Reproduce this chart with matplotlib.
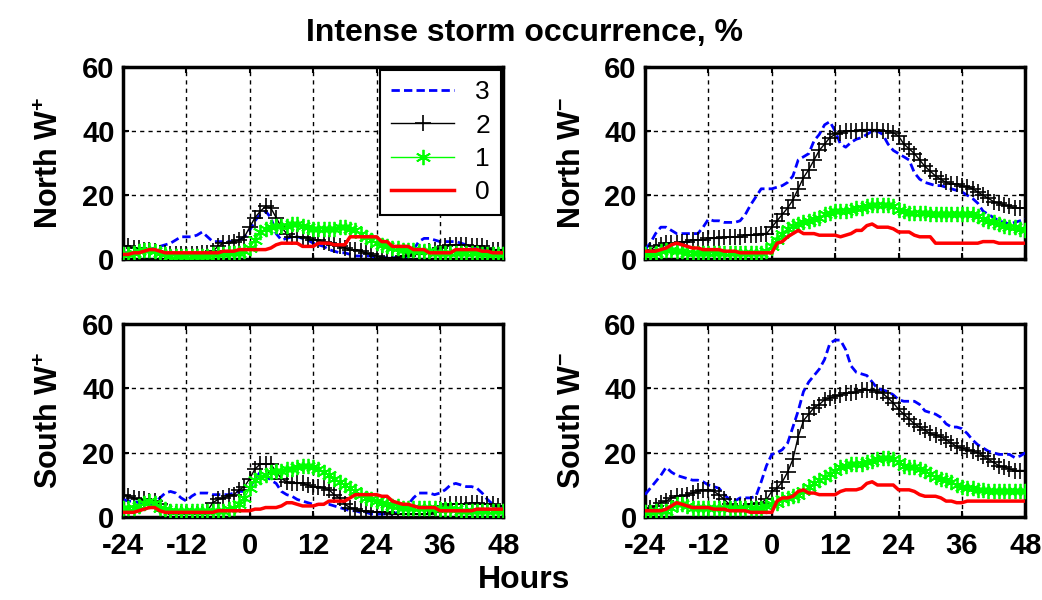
import numpy as np
import matplotlib
matplotlib.use('Agg')
import matplotlib.pyplot as plt

plt.rcParams['font.family'] = ['Liberation Sans', 'DejaVu Sans']
plt.rcParams['mathtext.fontset'] = 'custom'
plt.rcParams['mathtext.rm'] = 'Liberation Sans'
plt.rcParams['mathtext.bf'] = 'Liberation Sans:bold'
plt.rcParams['axes.unicode_minus'] = False

# hours relative to storm onset
hours = np.arange(-24, 49)

# ---- North W+ ----
nwp_3 = [2, 2, 2.5, 3, 3, 3, 3.5, 4,
         4.5, 5, 6, 7, 7, 7, 7.5, 8.5,
         7, 5.5, 5.5, 5.5, 5.5, 5.5, 6, 7,
         9, 12, 14, 15, 13, 8, 6, 6.5,
         7, 7, 6.5, 6, 5, 4.5, 4, 3,
         2.5, 2, 2, 1.5, 1, 1, 1, 1,
         0.5, 0.5, 0.5, 0.5, 0.5, 0.5, 1, 3,
         5.5, 6.5, 6.5, 6, 5.5, 5.5, 5.5, 5.5,
         5, 4.5, 4, 4, 3.5, 3, 2.5, 2, 2]
nwp_2 = [4, 4, 3.5, 3.5, 3, 3, 2.5, 2,
         2, 1.5, 1.5, 1.5, 1.5, 1.5, 1.5, 2,
         2, 2.5, 4, 5, 5, 5.5, 6, 7,
         10, 13, 15, 16.5, 16, 13, 10, 8,
         7, 7, 7, 6.5, 6, 6, 5.5, 5,
         4.5, 4, 3.5, 3, 3, 2.5, 2, 1.5,
         1, 0.5, 0.5, 0.5, 0.5, 1, 1, 1.5,
         1.5, 2, 2.5, 3, 3.5, 4, 4.5, 4.5,
         4.5, 4.5, 4, 4, 4, 3.5, 3, 3, 3]
nwp_1 = [1.5, 1.5, 2, 2.5, 3, 3, 2.5, 2,
         1.5, 1, 1, 1, 1, 1, 1, 1,
         1, 1.5, 1.5, 1.5, 2, 2, 2, 2.5,
         3.5, 6, 8.5, 9.5, 10, 10.5, 10.5, 10.5,
         11, 11, 10.5, 10, 9.5, 9.5, 9.5, 9.5,
         9.5, 10, 10, 9.5, 9, 8, 7, 6,
         5, 4.5, 4, 3.5, 3.5, 3, 3, 3,
         2.5, 2.5, 2.5, 2, 2, 2, 2, 2,
         2, 2, 2, 2, 1.5, 1.5, 1.5, 1.5, 1.5]
nwp_0 = [1.5, 1.5, 2, 2, 2.5, 3, 3, 2.5,
         2, 2, 2, 2, 2, 2, 2, 2,
         2, 2, 2, 2.5, 2.5, 2.5, 3, 3,
         3, 3, 3, 3, 3.5, 4.5, 5, 5,
         5, 5, 4, 4, 4, 5, 5, 5,
         4.5, 4.5, 4.5, 7, 7, 7, 7, 7,
         7, 5.5, 5.5, 4, 4, 4, 4, 3,
         3, 3, 2, 2, 2, 2, 2, 3,
         3, 3, 3, 3, 2.5, 2.5, 2, 2, 2]

# ---- North W- ----
nwm_3 = [3, 5, 8, 10, 10, 9, 8, 8,
         8, 8, 8, 10, 12.5, 12, 12, 11.5,
         11.5, 11.5, 12, 14, 17, 19.5, 22, 22,
         22, 22.5, 23, 24, 26, 31, 32, 33,
         37, 39, 42, 43, 40, 36, 35, 36.5,
         37.5, 38, 39, 40, 40, 39, 36, 34,
         33, 32, 31, 27, 25, 24, 23.5, 23,
         23, 22.5, 22, 21.5, 21, 20, 19, 17.5,
         15, 14, 13, 12, 11.5, 11, 11.5, 12, 12.5]
nwm_2 = [2, 3, 4, 4.5, 5, 5, 5, 5.5,
         5.5, 6, 6, 6, 6.5, 6.5, 6.5, 7,
         7, 7, 7, 7.5, 7.5, 7.5, 8, 8,
         10, 12, 14, 16, 18.5, 22, 25.5, 28,
         31, 34, 36, 38, 39, 39.5, 40, 40,
         40, 40.5, 40.5, 40.5, 40.5, 40, 40, 39.5,
         38.5, 36, 34.5, 33, 31, 29, 27.5, 26,
         25, 24, 23.5, 23.5, 23, 22.5, 22, 21,
         20, 19, 18, 17.5, 17, 16.5, 16, 16, 16]
nwm_1 = [1.5, 1.5, 2, 2.5, 3, 3, 2.5, 2.5,
         2, 2, 2, 2, 2, 2, 2, 2,
         2, 2, 2, 2, 2, 2, 2, 2.5,
         4, 6, 8, 9.5, 10.5, 11, 11.5, 12,
         12.5, 13, 14, 14.5, 15, 15, 15, 15.5,
         16, 16, 16.5, 17, 17, 17, 17, 16.5,
         15.5, 15, 14.5, 14.5, 14.5, 14.5, 14, 14,
         14, 14, 14, 14, 14, 14, 14, 13.5,
         12.5, 12, 11.5, 11, 10.5, 10, 10, 9.5, 9]
nwm_0 = [2.5, 2.5, 2.5, 3, 3.5, 4.5, 5, 4.5,
         4, 3.5, 3.5, 3, 3, 3, 3, 2.5,
         2.5, 2.5, 2, 2, 2, 2, 2, 2,
         2, 5, 5.5, 7, 8, 9, 8, 8,
         8, 7.5, 7.5, 7.5, 7.5, 7, 7.5, 8,
         9, 9, 10.5, 11, 10, 10, 10, 9.5,
         8.5, 8.5, 8.5, 7.5, 7, 7, 7, 5,
         5, 5, 5, 5, 5, 5, 5, 5,
         5.5, 5.5, 5.5, 5, 5, 5, 5, 5, 5]

# ---- South W+ ----
swp_3 = [5.5, 5, 5, 4.5, 4, 4, 4.5, 6,
         7.5, 8, 7.5, 6, 5, 6.5, 7.5, 7.5,
         7.5, 7, 7, 7, 7, 7.5, 8, 8,
         9, 12, 14, 13, 11.5, 10.5, 8, 7,
         6.5, 5.5, 5, 4.5, 4, 4, 4, 4,
         3.5, 3, 2.5, 2, 2, 1.5, 1.5, 1,
         1, 1, 1, 1, 1.5, 2.5, 4, 6,
         7.5, 7.5, 7.5, 7, 7.5, 8.5, 10, 10.5,
         10, 9.5, 9.5, 9, 7.5, 5.5, 4, 3, 2.5]
swp_2 = [7, 6.5, 6, 5.5, 5.5, 5, 5, 4,
         2, 1.5, 1, 1, 1, 1, 1, 1,
         2, 4.5, 5.5, 6, 6.5, 7, 8.5, 9.5,
         12, 15, 16.5, 16.5, 16.5, 14, 12, 11,
         10.5, 10.5, 10.5, 10, 9.5, 9.5, 9, 8.5,
         7, 6, 4, 3, 2.5, 2, 2, 1.5,
         1.5, 1.5, 1.5, 1, 1, 1, 1, 1,
         1, 1, 1, 1.5, 2.5, 3.5, 4, 4,
         4, 4, 4.5, 4.5, 4, 4, 4, 3.5, 3.5]
swp_1 = [3, 3, 3, 3.5, 4.5, 5, 4.5, 3,
         2.5, 2, 2, 2, 2, 2, 2, 2,
         2, 2, 2, 2, 2.5, 3, 4, 6,
         9, 11.5, 12.5, 13, 14, 14.5, 14.5, 15,
         15, 15.5, 16, 16, 15.5, 15, 14, 13,
         12, 11, 10, 9, 8, 7, 6, 5.5,
         5, 4.5, 4, 3.5, 3.5, 3, 3, 3,
         3, 3, 3, 3, 2.5, 2.5, 2.5, 2.5,
         2, 2, 2, 2, 2, 2, 2, 2, 2]
swp_0 = [1.5, 1.5, 1.5, 2, 2.5, 3, 3, 2,
         1.5, 1.5, 1.5, 1.5, 1.5, 1.5, 1.5, 1.5,
         1.5, 1.5, 2, 2, 2, 2, 2, 2,
         2, 2.5, 2.5, 3, 3, 3, 3.5, 4.5,
         4.5, 4, 3.5, 3.5, 3.5, 4, 4, 5,
         5, 5, 5, 6, 7, 7, 7, 7,
         7, 6.5, 6.5, 5, 4.5, 4, 4, 3.5,
         3, 3, 3, 3, 2, 2, 2, 2,
         2, 2, 2, 2.5, 2.5, 2.5, 2.5, 2.5, 2.5]

# ---- South W- ----
swm_3 = [7, 9, 11, 13, 15.5, 14, 13, 12.5,
         12, 11.5, 11.5, 11, 10, 9.5, 9, 7,
         5.5, 5, 6, 6, 6, 6.5, 11, 16,
         19.5, 20, 21, 23, 28, 33, 39, 42,
         44, 46, 49, 54, 55, 55, 52, 47,
         45, 44.5, 44, 42, 40, 39.5, 39, 38,
         36.5, 36, 36, 36, 35, 33, 32.5, 32,
         31, 29, 28, 28, 27.5, 26, 24, 22.5,
         21.5, 20.5, 20, 19.5, 19.5, 19.5, 18.5, 19, 20]
swm_2 = [2, 3, 3.5, 4.5, 5, 6, 6.5, 6.5,
         7, 7.5, 8, 8.5, 8.5, 8, 7, 5.5,
         4, 3.5, 3.5, 3.5, 4, 4, 4.5, 5.5,
         8, 9, 11, 14, 18, 25, 30, 32,
         34, 35, 36.5, 37, 37.5, 38, 38.5, 38.5,
         39, 39.5, 39.5, 39.5, 39, 38.5, 37, 35.5,
         33.5, 32, 30.5, 29, 28, 27, 26, 25.5,
         25, 24, 23, 22, 21.5, 21, 20.5, 20,
         19, 18, 17, 16, 15.5, 15, 14.5, 14.5, 14.5]
swm_1 = [1.5, 1.5, 2, 2, 2, 3, 4, 4,
         3.5, 3, 3, 3, 3, 3, 3, 3,
         3, 3, 3, 3, 3, 3, 3, 3.5,
         4, 4.5, 5.5, 6, 6.5, 7, 8, 9.5,
         10.5, 11.5, 12.5, 13.5, 14.5, 15.5, 16, 16.5,
         16.5, 16.5, 17, 17.5, 18, 18.5, 18.5, 18,
         17, 16, 15.5, 15.5, 15, 14.5, 13.5, 12.5,
         12, 11.5, 11, 10, 9.5, 9, 9, 8.5,
         8.5, 8, 8, 8, 8, 8, 8, 8, 8]
swm_0 = [2, 2, 2, 2, 2.5, 3.5, 4.5, 4,
         3.5, 3, 3, 3, 3, 2.5, 2.5, 2.5,
         2, 2, 2, 2, 1.5, 1.5, 1.5, 1.5,
         1.5, 5, 6, 6, 6.5, 8, 8.5, 7.5,
         7.5, 7, 7, 7, 7, 8, 8.5, 8.5,
         8.5, 9, 10.5, 11, 10, 10, 10, 10,
         8.5, 8.5, 8.5, 8, 7, 6.5, 6.5, 6.5,
         6, 5, 5, 4.5, 4.5, 5, 5, 5,
         5, 5, 5, 5, 5, 5, 5, 5, 5]

panels = [
    ('North W$^{\\mathbf{+}}$', [nwp_3, nwp_2, nwp_1, nwp_0]),
    ('North W$^{\\mathbf{-}}$', [nwm_3, nwm_2, nwm_1, nwm_0]),
    ('South W$^{\\mathbf{+}}$', [swp_3, swp_2, swp_1, swp_0]),
    ('South W$^{\\mathbf{-}}$', [swm_3, swm_2, swm_1, swm_0]),
]
xticks = [-24, -12, 0, 12, 24, 36, 48]
yticks = [0, 20, 40, 60]

fig = plt.figure(figsize=(10.42, 6.0), dpi=100)
rects = [
    [0.118, 0.568, 0.365, 0.320],
    [0.619, 0.568, 0.365, 0.320],
    [0.118, 0.138, 0.365, 0.322],
    [0.619, 0.138, 0.365, 0.322],
]

asterisk = (6, 2, 0)

for i, (name, data) in enumerate(panels):
    ax = fig.add_axes(rects[i])
    s3, s2, s1, s0 = data
    ax.plot(hours, s3, color='#0000ff', ls=(0, (3, 1.5)), lw=2, label='3', zorder=3)
    ax.plot(hours, s2, color='black', lw=1, marker='+', ms=12, mew=1.2, label='2', zorder=4)
    ax.plot(hours, s1, color='#00ff00', lw=1, marker=asterisk, ms=11, mew=1.3, label='1', zorder=5)
    ax.plot(hours, s0, color='#ff0000', lw=2.5, label='0', zorder=6)

    ax.set_xlim(-24, 48)
    ax.set_ylim(0, 60)
    ax.set_xticks(xticks)
    ax.set_yticks(yticks)
    ax.grid(True, color='black', ls=(0, (3, 3)), lw=1)
    ax.tick_params(direction='in', top=True, right=True, length=4, width=1.5,
                   labelsize=21)
    ax.tick_params(axis='y', pad=6)
    ax.tick_params(axis='x', pad=11)
    for lab in ax.get_xticklabels() + ax.get_yticklabels():
        lab.set_fontweight('bold')
    if i < 2:
        ax.set_xticklabels([])
    for sp in ax.spines.values():
        sp.set_linewidth(2.5)
    ax.set_ylabel(name, fontsize=22, fontweight='bold', labelpad=12)

    if i == 0:
        leg = ax.legend(loc='upper right', fontsize=19, handlelength=2.4,
                        frameon=True, fancybox=False, edgecolor='black',
                        borderaxespad=0.1, labelspacing=0.35, borderpad=0.4,
                        framealpha=1)
        leg.get_frame().set_linewidth(1.5)

fig.text(0.503, 0.945, 'Intense storm occurrence, %', ha='center', va='center',
         fontsize=23, fontweight='bold')
fig.text(0.503, 0.033, 'Hours', ha='center', va='center',
         fontsize=23, fontweight='bold')

plt.savefig('out.png', dpi=100)
